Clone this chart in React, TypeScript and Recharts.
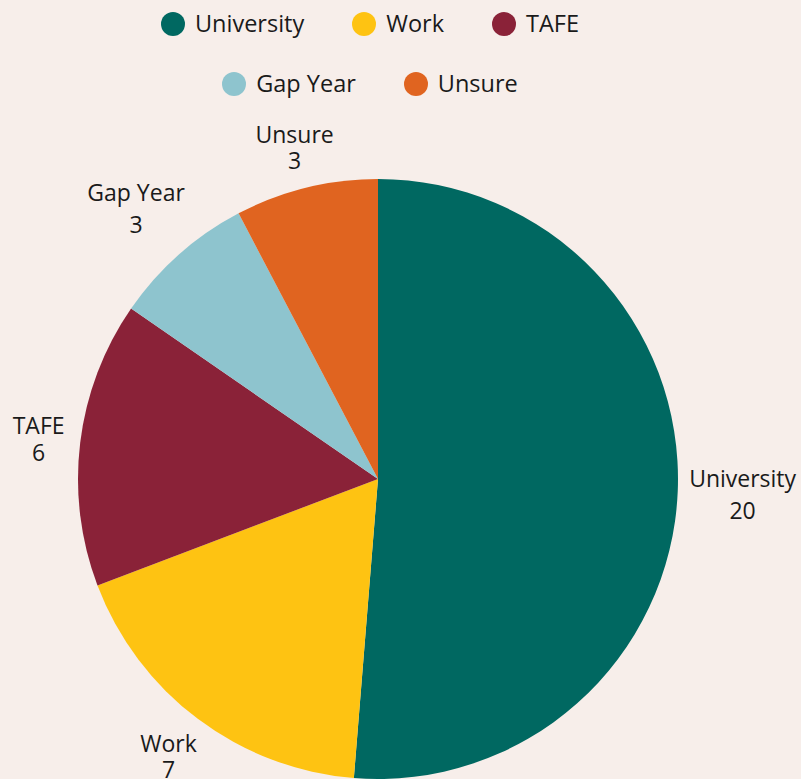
import React from 'react';
import { PieChart, Pie, Cell, Legend } from 'recharts';

const categories = ['University', 'Work', 'TAFE', 'Gap Year', 'Unsure'];
const values = [20, 7, 6, 3, 3];
const colors = ['#006861', '#fec312', '#8a2238', '#8ec4ce', '#e06420'];

const data = categories.map((name, i) => ({ name, value: values[i] }));

const W = 801;
const H = 779;
const FONT = '"Open Sans", "Noto Sans", sans-serif';
const TEXT = '#1a1a1a';
const BG = '#f7eeea';
const LABEL_SIZE = 23;
const LEGEND_SIZE = 23.5;

let measureCtx: CanvasRenderingContext2D | null = null;
function textWidth(s: string, size: number) {
  if (!measureCtx) {
    const c = document.createElement('canvas');
    measureCtx = c.getContext('2d');
  }
  if (!measureCtx) return s.length * size * 0.55;
  measureCtx.font = `${size}px "Open Sans"`;
  return measureCtx.measureText(s).width;
}

function renderLabel(props: any) {
  const { cx, cy, midAngle, outerRadius } = props;
  const name = String(props.name ?? props.payload?.name);
  const value = String(props.value ?? props.payload?.value);
  const RAD = Math.PI / 180;
  const dx = Math.cos(-midAngle * RAD);
  const dy = Math.sin(-midAngle * RAD);
  const capH = LABEL_SIZE * 0.726;
  const gap = /[gjpqy]/.test(name) ? 32 : 26.5;
  const hw = Math.max(textWidth(name, LABEL_SIZE), textWidth(value, LABEL_SIZE)) / 2;
  const hh = (gap + capH) / 2;
  const r = outerRadius + 12 + Math.abs(dx) * hw + Math.abs(dy) * hh;
  const bx = cx + r * dx - 1.5;
  const by = cy + r * dy + 1;
  const nameBase = by - (gap - capH) / 2;
  return (
    <text x={bx} y={nameBase} textAnchor="middle" fontSize={LABEL_SIZE} fill={TEXT} fontFamily={FONT}>
      <tspan x={bx} y={nameBase}>{name}</tspan>
      <tspan x={bx} y={nameBase + gap}>{value}</tspan>
    </text>
  );
}

function LegendContent(props: any) {
  const payload: any[] = [...(props.payload || [])].sort(
    (a, b) => categories.indexOf(a.value) - categories.indexOf(b.value)
  );
  const rows = [payload.slice(0, 3), payload.slice(3)];
  return (
    <div
      style={{
        fontFamily: FONT,
        fontSize: LEGEND_SIZE,
        color: TEXT,
        width: W,
        boxSizing: 'border-box',
        paddingRight: 13,
        paddingTop: 1,
        lineHeight: 1,
      }}
    >
      {rows.map((row, ri) => (
        <div
          key={ri}
          style={{
            display: 'flex',
            justifyContent: 'center',
            alignItems: 'center',
            height: 46,
            marginTop: ri === 0 ? 0 : 14,
          }}
        >
          {row.map((e: any, i: number) => {
            const idx = categories.indexOf(e.value);
            return (
              <div key={i} style={{ display: 'flex', alignItems: 'center', marginRight: 48 }}>
                <span
                  style={{
                    display: 'inline-block',
                    width: 24,
                    height: 24,
                    borderRadius: 12,
                    background: colors[idx],
                    marginRight: 10,
                  }}
                />
                <span>{e.value}</span>
              </div>
            );
          })}
        </div>
      ))}
    </div>
  );
}

export default function App() {
  return (
    <div style={{ position: 'absolute', left: 0, top: 0, width: W, height: H, background: BG, overflow: 'hidden' }}>
      <PieChart width={W} height={H} margin={{ top: 0, right: 0, bottom: 0, left: 0 }}>
        <Legend
          verticalAlign="top"
          align="center"
          content={<LegendContent />}
          wrapperStyle={{ top: 0, left: 0, width: W, height: 0, overflow: 'visible' }}
        />
        <Pie
          data={data}
          dataKey="value"
          nameKey="name"
          cx={378}
          cy={479}
          outerRadius={300}
          startAngle={90}
          endAngle={-270}
          stroke="none"
          label={renderLabel}
          labelLine={false}
          isAnimationActive={false}
        >
          {data.map((d, i) => (
            <Cell key={d.name} fill={colors[i]} />
          ))}
        </Pie>
      </PieChart>
    </div>
  );
}
